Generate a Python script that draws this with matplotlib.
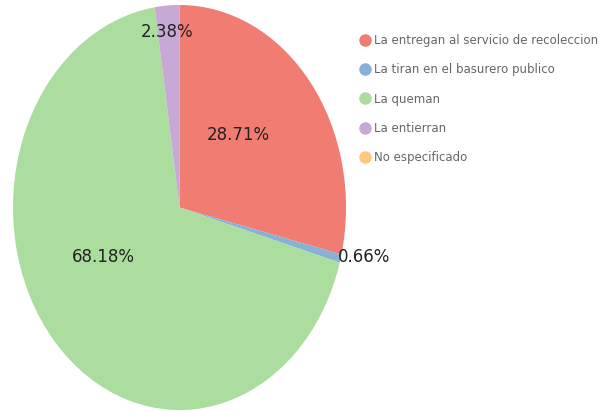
import matplotlib
matplotlib.use("Agg")
import matplotlib.pyplot as plt
from matplotlib.lines import Line2D

# data
categories = ["La entregan al servicio de recoleccion",
              "La tiran en el basurero publico",
              "La queman",
              "La entierran",
              "No especificado"]
values = [28.71, 0.66, 68.18, 2.38, 0.0]
colors = ["#F07C72", "#88B1D6", "#AADD9E", "#C8A8D4", "#FDC97E"]

# where each percent label sits (pie data coords, pie radius = 1)
label_pos = [(0.351, 0.358), (0.952, -0.244), (-0.459, -0.244), (-0.075, 0.867), None]
label_ha = ["center", "left", "center", "center", "center"]

W, H = 604, 411
fig = plt.figure(figsize=(W / 100, H / 100), dpi=100)

# the pie in the reference is stretched vertically, so use a non-square axes
ax = fig.add_axes([13 / W, 1 - 410 / H, 333 / W, 405 / H])
wedges, _ = ax.pie(values, colors=colors, startangle=90, counterclock=False,
                   radius=1, wedgeprops=dict(linewidth=0))
ax.set_aspect("auto")
ax.set_xlim(-1, 1)
ax.set_ylim(-1, 1)
ax.axis("off")

for v, pos, ha in zip(values, label_pos, label_ha):
    if pos is None or v == 0:
        continue
    ax.text(pos[0], pos[1], "%.2f%%" % v, ha=ha, va="center",
            fontsize=12, color="#222222")

handles = [Line2D([], [], marker="o", linestyle="", markersize=8,
                  markerfacecolor=c, markeredgecolor=c) for c in colors]
leg = fig.legend(handles, categories, loc="upper left",
                 bbox_to_anchor=(360 / W, 1 - 34 / H), frameon=False,
                 fontsize=8.5, labelcolor="#666666", handlelength=0.8,
                 handletextpad=0.35, labelspacing=1.38, borderaxespad=0,
                 borderpad=0)

fig.savefig("out.png", dpi=100)
